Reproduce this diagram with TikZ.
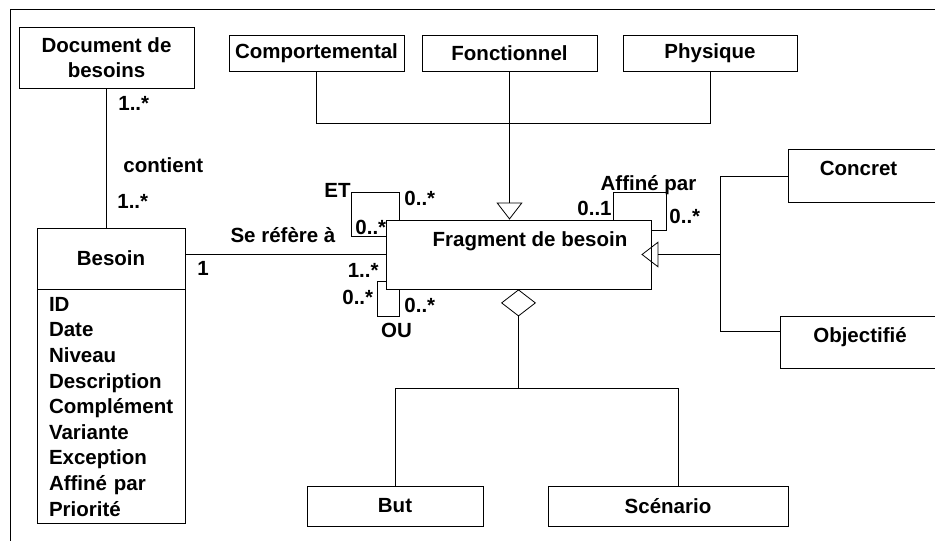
\documentclass[tikz,border=0pt]{standalone}
\usepackage{fontspec}
\setmainfont{Liberation Sans}
\usepackage{tikz}
\usetikzlibrary{calc,positioning,arrows.meta}

\tikzset{
  cls/.style={draw, rectangle, inner sep=0pt, align=center},
  mult/.style={inner sep=0pt},
  gen/.style={-{Triangle[open, length=17pt, width=26pt]}},
  agg/.style={{Diamond[open, length=27pt, width=35pt]}-},
}

\begin{document}
\begin{tikzpicture}[x=1pt, y=-1pt, line width=0.8pt, font=\bfseries\fontsize{20.5}{25.6}\selectfont]
  \useasboundingbox (0,0) rectangle (935,541);
  \draw (10.5,541) -- (10.5,9) -- (935,9);

  % classes
  \node (docb) [cls, minimum width=175pt, minimum height=61pt] at (106.5,57.5) {Document de\\besoins};
  \node (comp) [cls, minimum width=175pt, minimum height=36pt] at (316.5,53) {Comportemental};
  \node (fonc) [cls, minimum width=175pt, minimum height=36pt] at (509.5,53) {Fonctionnel};
  \node (phys) [cls, minimum width=174pt, minimum height=36pt] at (710,53) {Physique};
  \node (besoin) [cls, minimum width=148pt, minimum height=61pt] at (111,258.5) {Besoin};
  \node (attrs) [cls, below=0pt of besoin, minimum width=148pt, minimum height=234pt, text width=124pt, align=left]
    {ID\\Date\\Niveau\\Description\\Compl\'ement\\Variante\\Exception\\Affin\'e par\\Priorit\'e};
  \node (frag) [cls, minimum width=265pt, minimum height=69pt] at (518.5,254.5) {};
  \node (fragt) [mult, anchor=base] at (530,246) {Fragment de besoin};
  \node (conc) [cls, anchor=north west, minimum width=180pt, minimum height=53pt] at (788,149) {};
  \node (conct) [mult, anchor=base] at (858.5,175) {Concret};
  \node (obj) [cls, anchor=north west, minimum width=180pt, minimum height=52pt] at (780,316) {};
  \node (objt) [mult, anchor=base] at (860,342) {Objectifi\'e};
  \node (but) [cls, minimum width=176pt, minimum height=40pt] at (395,506) {But};
  \node (scen) [cls, minimum width=240pt, minimum height=40pt] at (668,506) {Sc\'enario};

  % associations
  \draw (docb.south) -- (docb.south |- besoin.north);
  \draw (frag.west -| besoin.east) -- (frag.west);
  \draw ([xshift=14pt]frag.north west) |- ++(-48,-27) |- ([yshift=-17pt]frag.north west);
  \draw ([yshift=8pt]frag.south west) -| ++(-8,35) -| ([xshift=14pt]frag.south west);
  \draw ([xshift=-38pt]frag.north east) |- ++(53,-27) |- ([yshift=-11pt]frag.north east);

  % generalisations
  \draw (comp.south) -- ++(0,52) -| (phys.south);
  \draw [gen] (fonc.south) -- (fonc.south |- frag.north);
  \coordinate (gj) at (720,254.5);
  \draw (conc.west) -| (gj);
  \draw ($(obj.north west)!0.3!(obj.south west)$) -| (gj);
  \draw [gen] (gj) -- ([xshift=-10pt]frag.east);

  % aggregation
  \draw [agg] (frag.south) -- ++(0,99) coordinate (aj);
  \draw (aj) -| (but.north);
  \draw (aj) -| ([xshift=10pt]scen.north);

  % labels
  \node (m1) [mult, anchor=base west] at (118,110) {1..*};
  \node (contient) [mult, anchor=base west] at (123,172) {contient};
  \node (m2) [mult, anchor=base west] at (117,208) {1..*};
  \node (refere) [mult, anchor=base] at (283,242) {Se r\'ef\`ere \`a};
  \node (m3) [mult, anchor=base west] at (197,275) {1};
  \node (m4) [mult, anchor=base east] at (379,277) {1..*};
  \node (et) [mult, anchor=base] at (337.5,197) {ET};
  \node (m5) [mult, anchor=base west] at (404,205) {0..*};
  \node (m6) [mult, anchor=base west] at (355,234) {0..*};
  \node (m7) [mult, anchor=base west] at (342,304) {0..*};
  \node (m8) [mult, anchor=base west] at (404,312) {0..*};
  \node (ou) [mult, anchor=base] at (396.5,337) {OU};
  \node (affine) [mult, anchor=base] at (648.5,190) {Affin\'e par};
  \node (m9) [mult, anchor=base east] at (612,215) {0..1};
  \node (m10) [mult, anchor=base west] at (669,223) {0..*};
\end{tikzpicture}
\end{document}
